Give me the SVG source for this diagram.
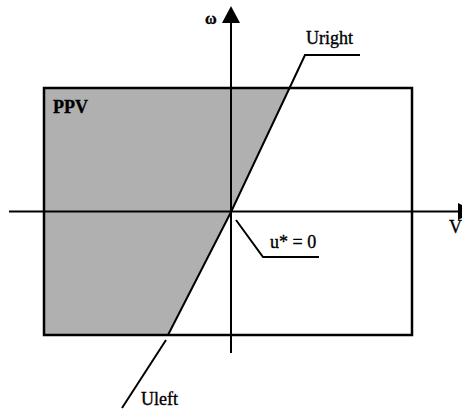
<svg xmlns="http://www.w3.org/2000/svg" width="462" height="410" viewBox="0 0 462 410">
<style>
.ln{stroke:#000;stroke-width:2;fill:none}
.t{font-family:"Liberation Serif",serif;fill:#000;stroke:#000;stroke-width:0.35}
</style>
<rect width="462" height="410" fill="#fff"/>
<g id="ppv-region">
<polygon points="44,88 290,88 231,212 168,335 44,335" fill="#b0b0b0"/>
<rect x="44" y="88" width="368" height="247" fill="none" stroke="#000" stroke-width="2.5"/>
<text class="t" x="53" y="113" font-size="18" font-weight="bold">PPV</text>
</g>
<g id="connectors">
<line class="ln" x1="9" y1="211.5" x2="460" y2="211.5"/>
<polygon points="458,203 458,220 476,211.5" fill="#000"/>
<line class="ln" x1="231" y1="353" x2="231" y2="20"/>
<polygon points="222,23 240,23 231,6" fill="#000"/>
<polyline class="ln" points="168,335 231,212 290,87 305,55 360,55"/>
<line class="ln" x1="166" y1="340" x2="122" y2="408"/>
<polyline class="ln" points="236,220 263,257 319,257"/>
</g>
<g id="labels">
<text class="t" x="205" y="24" font-size="16" font-weight="bold">ω</text>
<text class="t" x="306" y="44" font-size="18">Uright</text>
<text class="t" x="141" y="405" font-size="18">Uleft</text>
<text class="t" x="270" y="248" font-size="18">u* = 0</text>
<text class="t" x="449" y="233" font-size="18">V</text>
</g>
</svg>
